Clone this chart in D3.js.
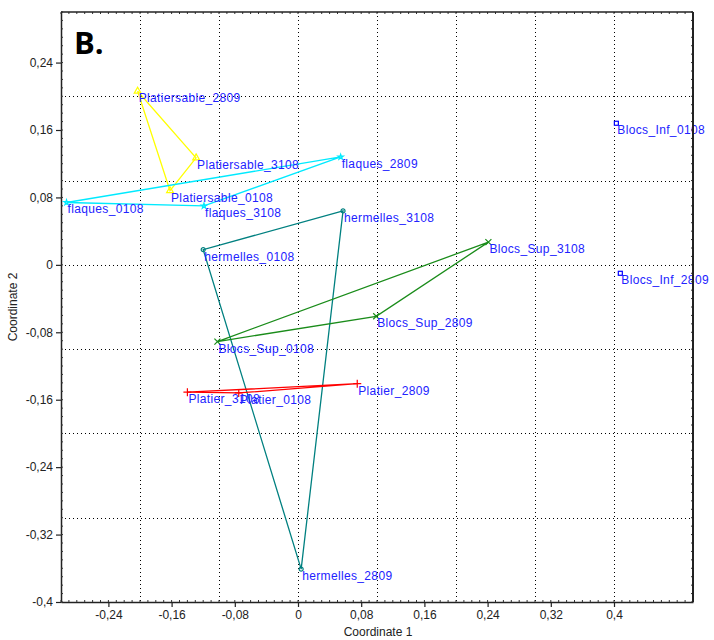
<!DOCTYPE html>
<html>
<head>
<meta charset="utf-8">
<script src="https://cdn.jsdelivr.net/npm/d3@7"></script>
<style>
  html, body { margin: 0; padding: 0; background: #fff; }
  svg { display: block; }
</style>
</head>
<body>
<svg id="chart" width="714" height="640"></svg>
<script>
// ---- data ----
const sampleLabels = [
  "Platiersable_2809", "Platiersable_3108", "Platiersable_0108",
  "flaques_0108", "flaques_3108", "flaques_2809",
  "hermelles_3108", "hermelles_0108", "hermelles_2809",
  "Blocs_Sup_3108", "Blocs_Sup_2809", "Blocs_Sup_0108",
  "Platier_3108", "Platier_0108", "Platier_2809",
  "Blocs_Inf_0108", "Blocs_Inf_2809"
];
const coord1 = [
  -0.203, -0.129, -0.162,
  -0.293, -0.119, 0.054,
  0.057, -0.120, 0.004,
  0.241, 0.099, -0.102,
  -0.140, -0.075, 0.075,
  0.403, 0.408
];
const coord2 = [
  0.206, 0.127, 0.088,
  0.074, 0.070, 0.128,
  0.064, 0.018, -0.361,
  0.027, -0.061, -0.091,
  -0.151, -0.152, -0.141,
  0.168, -0.010
];
const groupOf = [
  "Platiersable", "Platiersable", "Platiersable",
  "flaques", "flaques", "flaques",
  "hermelles", "hermelles", "hermelles",
  "Blocs_Sup", "Blocs_Sup", "Blocs_Sup",
  "Platier", "Platier", "Platier",
  "Blocs_Inf", "Blocs_Inf"
];
const groupNames = ["Platiersable", "flaques", "hermelles", "Blocs_Sup", "Platier", "Blocs_Inf"];
const xTickValues = [-0.24, -0.16, -0.08, 0, 0.08, 0.16, 0.24, 0.32, 0.4];
const yTickValues = [0.24, 0.16, 0.08, 0, -0.08, -0.16, -0.24, -0.32, -0.4];
const xGridValues = [-0.2, -0.1, 0, 0.1, 0.2, 0.3, 0.4];
const yGridValues = [0.2, 0.1, 0, -0.1, -0.2, -0.3];
const xDomain = [-0.3, 0.5];
const yDomain = [-0.4, 0.3];

// ---- styles ----
const groupColor = {
  Platiersable: "#ffff00",
  flaques: "#00eaff",
  hermelles: "#008080",
  Blocs_Sup: "#1a8c1a",
  Platier: "#ff0000",
  Blocs_Inf: "#0000ff"
};
const groupMarker = {
  Platiersable: "triangle",
  flaques: "star",
  hermelles: "circle",
  Blocs_Sup: "x",
  Platier: "plus",
  Blocs_Inf: "square"
};

const svg = d3.select("#chart");
const margin = { left: 61, right: 21, top: 12, bottom: 38 };
const W = 714, H = 640;
const x = d3.scaleLinear().domain(xDomain).range([margin.left, W - margin.right]);
const y = d3.scaleLinear().domain(yDomain).range([H - margin.bottom, margin.top]);

const fmt = v => (v === 0 ? "0" : String(+v.toFixed(2)).replace(".", ","));

// grid
const grid = svg.append("g").attr("stroke", "#000").attr("stroke-width", 1).attr("stroke-dasharray", "1,3");
grid.selectAll("line.vx").data(xGridValues).join("line")
  .attr("x1", d => Math.round(x(d)) + 0.5).attr("x2", d => Math.round(x(d)) + 0.5)
  .attr("y1", y.range()[1]).attr("y2", y.range()[0]);
grid.selectAll("line.hy").data(yGridValues).join("line")
  .attr("y1", d => Math.round(y(d)) + 0.5).attr("y2", d => Math.round(y(d)) + 0.5)
  .attr("x1", x.range()[0]).attr("x2", x.range()[1]);

// convex hulls
const points = sampleLabels.map((name, i) => ({ name, g: groupOf[i], px: x(coord1[i]), py: y(coord2[i]) }));
groupNames.forEach(g => {
  const pts = points.filter(p => p.g === g).map(p => [p.px, p.py]);
  if (pts.length < 3) return;
  const hull = d3.polygonHull(pts);
  svg.append("path")
    .attr("d", "M" + hull.map(p => p.join(",")).join("L") + "Z")
    .attr("fill", "none")
    .attr("stroke", groupColor[g])
    .attr("stroke-width", 1.3);
});

// markers
const mk = svg.append("g");
points.forEach(p => {
  const c = groupColor[p.g];
  const t = groupMarker[p.g];
  const gx = mk.append("g").attr("transform", `translate(${p.px},${p.py})`)
    .attr("fill", "none").attr("stroke", c).attr("stroke-width", 1.2);
  if (t === "triangle") gx.append("path").attr("d", d3.symbol(d3.symbolTriangle, 20)());
  else if (t === "star") gx.append("path").attr("d", d3.symbol(d3.symbolStar, 9)());
  else if (t === "circle") gx.append("circle").attr("r", 2);
  else if (t === "x") gx.append("path").attr("d", "M-3,-3L3,3M-3,3L3,-3");
  else if (t === "plus") gx.append("path").attr("d", "M-4,0L4,0M0,-4L0,4");
  else if (t === "square") gx.append("rect").attr("x", -2).attr("y", -2).attr("width", 4).attr("height", 4);
});

// labels
svg.append("g").selectAll("text").data(points).join("text")
  .attr("x", d => d.px + 1)
  .attr("y", d => d.py + 11)
  .attr("font-family", "Liberation Sans, Arial, sans-serif")
  .attr("font-size", 12)
  .attr("letter-spacing", 0.35)
  .attr("fill", "#2222ff")
  .text(d => d.name);

// axes
const axisFont = "Liberation Sans, Arial, sans-serif";
const minorX = d3.range(-0.3, 0.5001, 0.01).map(v => +v.toFixed(2));
const minorY = d3.range(-0.4, 0.3001, 0.01).map(v => +v.toFixed(2));

const bottom = svg.append("g").attr("transform", `translate(0,${y.range()[0]})`)
  .call(d3.axisBottom(x).tickValues(xTickValues).tickFormat(fmt).tickSizeInner(5).tickSizeOuter(0).tickPadding(3));
const left = svg.append("g").attr("transform", `translate(${x.range()[0]},0)`)
  .call(d3.axisLeft(y).tickValues(yTickValues).tickFormat(fmt).tickSizeInner(5).tickSizeOuter(0).tickPadding(3));
[bottom, left].forEach(a => {
  a.selectAll("text").attr("font-family", axisFont).attr("font-size", 12).attr("fill", "#222");
  a.select(".domain").attr("stroke", "#222").attr("stroke-width", 1.5);
  a.selectAll(".tick line").attr("stroke", "#222").attr("stroke-width", 1.2);
});

// minor ticks (inside) on all four sides
const minor = svg.append("g").attr("stroke", "#333").attr("stroke-width", 1);
minor.selectAll("line.mb").data(minorX).join("line")
  .attr("x1", d => x(d)).attr("x2", d => x(d))
  .attr("y1", y.range()[0]).attr("y2", y.range()[0] - 2);
minor.selectAll("line.mt").data(minorX).join("line")
  .attr("x1", d => x(d)).attr("x2", d => x(d))
  .attr("y1", y.range()[1]).attr("y2", y.range()[1] + 2);
minor.selectAll("line.ml").data(minorY).join("line")
  .attr("y1", d => y(d)).attr("y2", d => y(d))
  .attr("x1", x.range()[0]).attr("x2", x.range()[0] + 2);
minor.selectAll("line.mr").data(minorY).join("line")
  .attr("y1", d => y(d)).attr("y2", d => y(d))
  .attr("x1", x.range()[1]).attr("x2", x.range()[1] - 2);

// top and right border
svg.append("line").attr("x1", x.range()[0]).attr("x2", x.range()[1])
  .attr("y1", y.range()[1]).attr("y2", y.range()[1]).attr("stroke", "#222").attr("stroke-width", 1.5);
svg.append("line").attr("x1", x.range()[1]).attr("x2", x.range()[1])
  .attr("y1", y.range()[1]).attr("y2", y.range()[0]).attr("stroke", "#222").attr("stroke-width", 2);

// axis titles
svg.append("text").attr("x", (x.range()[0] + x.range()[1]) / 2 + 1).attr("y", 636)
  .attr("text-anchor", "middle").attr("font-family", axisFont).attr("font-size", 12).attr("fill", "#222")
  .text("Coordinate 1");
svg.append("text").attr("transform", `translate(17,${(y.range()[0] + y.range()[1]) / 2}) rotate(-90)`)
  .attr("text-anchor", "middle").attr("font-family", axisFont).attr("font-size", 12).attr("fill", "#222")
  .text("Coordinate 2");

// panel letter
svg.append("text").attr("x", 74).attr("y", 54)
  .attr("font-family", "Open Sans, Liberation Sans, sans-serif").attr("font-weight", 700)
  .attr("font-size", 31).attr("fill", "#000").text("B.");
</script>
</body>
</html>
